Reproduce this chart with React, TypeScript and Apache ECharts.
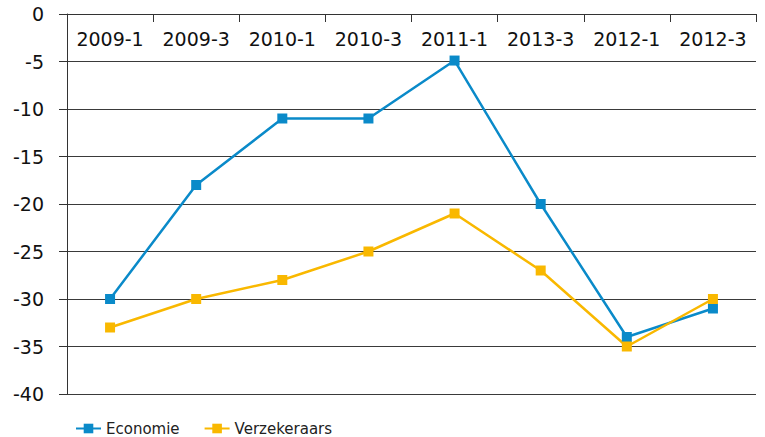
import React, { useEffect, useRef } from "react";
import * as echarts from "echarts";

const categories = ["2009-1", "2009-3", "2010-1", "2010-3", "2011-1", "2013-3", "2012-1", "2012-3"];
const economie = [-30, -18, -11, -11, -4.9, -20, -34, -31];
const verzekeraars = [-33, -30, -28, -25, -21, -27, -35, -30];
const seriesNames = ["Economie", "Verzekeraars"];

const FONT = "'DejaVu Sans', Verdana, sans-serif";

export default function App() {
  const ref = useRef<HTMLDivElement>(null);
  useEffect(() => {
    if (!ref.current) return;
    const chart = echarts.init(ref.current, null, { renderer: "svg" });
    chart.setOption({
      animation: false,
      textStyle: { fontFamily: FONT },
      grid: { left: 67, right: 9, top: 14, bottom: 43, containLabel: false },
      legend: {
        left: 70,
        top: 416,
        itemWidth: 25,
        itemHeight: 12,
        itemGap: 24,
        textStyle: { fontSize: 15, color: "#222", fontFamily: FONT },
        data: seriesNames,
      },
      xAxis: {
        type: "category",
        position: "top",
        data: categories,
        boundaryGap: true,
        axisLine: { onZero: false, lineStyle: { color: "#333", width: 1 } },
        axisTick: { show: true, inside: true, length: 8, lineStyle: { color: "#333" } },
        axisLabel: { inside: true, fontSize: 19, color: "#111", margin: 15, interval: 0, fontFamily: FONT },
        splitLine: { show: false },
      },
      yAxis: {
        type: "value",
        min: -40,
        max: 0,
        interval: 5,
        axisLine: { show: true, lineStyle: { color: "#333", width: 1 } },
        axisTick: { show: true, length: 8, lineStyle: { color: "#333" } },
        axisLabel: { fontSize: 19, color: "#111", margin: 23, fontFamily: FONT },
        splitLine: { show: true, lineStyle: { color: "#3a3a3a", width: 1 } },
      },
      series: [
        {
          name: seriesNames[0],
          type: "line",
          data: economie,
          symbol: "rect",
          symbolSize: 10,
          lineStyle: { color: "#0A8AC9", width: 2.5 },
          itemStyle: { color: "#0A8AC9" },
        },
        {
          name: seriesNames[1],
          type: "line",
          data: verzekeraars,
          symbol: "rect",
          symbolSize: 10,
          lineStyle: { color: "#F9B800", width: 2.5 },
          itemStyle: { color: "#F9B800" },
        },
      ],
    });
    return () => chart.dispose();
  }, []);
  return <div ref={ref} style={{ width: 765, height: 437, position: "absolute", left: 0, top: 0 }} />;
}
